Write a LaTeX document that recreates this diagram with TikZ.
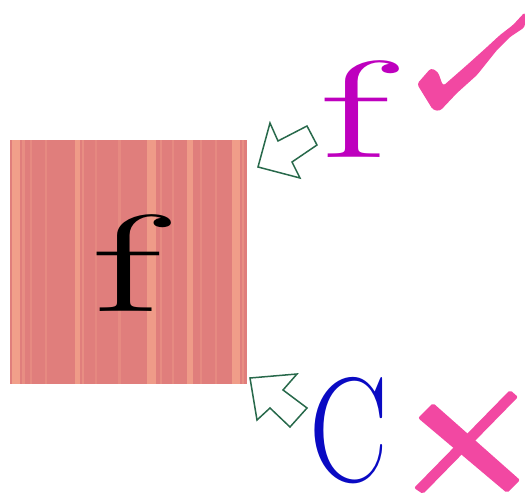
\documentclass[tikz,border=0pt]{standalone}
\usepackage{fontspec}
\definecolor{woodbase}{RGB}{224,126,124}
\definecolor{woodlight}{RGB}{246,168,142}
\definecolor{arrowgreen}{RGB}{40,105,75}
\definecolor{markpink}{RGB}{242,72,162}
\definecolor{fmag}{RGB}{190,0,190}
\definecolor{cblue}{RGB}{10,10,195}
\tikzset{
  hollowarrow/.style={draw=arrowgreen, line width=1.5pt, fill=white, line join=miter},
  bigletter/.style={inner sep=0pt, anchor=base west, font=\fontsize{138}{138}\selectfont, xscale=1.85},
  markstroke/.style={fill=markpink, draw=none},
}
\begin{document}
\begin{tikzpicture}[x=1pt,y=-1pt]
\useasboundingbox (0,0) rectangle (525,497);
% wooden square
\fill[woodbase] (10,140) rectangle (247,384);
\foreach \xa/\w/\op in {12/8/0.8, 22/3/0.4, 30/2/0.3, 45/2/0.3, 75/5/0.7, 82/2/0.4, 95/2/0.25, 118/3/0.3, 147/9/0.7, 160/2/0.35, 172/2/0.3, 187/6/0.7, 200/2/0.3, 215/2/0.3, 232/8/0.75, 242/2/0.4}{
  \fill[woodlight, opacity=\op] (\xa,140) rectangle ({\xa+\w},384);
}
\node[bigletter] (f1) at (91,312) {f};
% magenta f
\node[bigletter, text=fmag] (f2) at (319,158) {f};
% blue C
\node[inner sep=0pt, anchor=base west, text=cblue, font=\fontsize{149}{149}\selectfont, xscale=0.79] (c1) at (309,481) {C};
% arrows
\draw[hollowarrow] (258,167) -- (270,123) -- (278,141) -- (307,126) -- (317,145) -- (292,162) -- (300,178) -- cycle;
\draw[hollowarrow] (250,378) -- (297,374) -- (283,390) -- (307,408) -- (290,427) -- (270,408) -- (257,420) -- cycle;
% check mark
\fill[markstroke, rounded corners=3pt] (417,84) -- (431,68) -- (438,72) -- (443,86) -- (467,65) -- (487,47) -- (500,35) -- (513,25) -- (525,12) -- (525,27) -- (510,37) -- (497,50) -- (477,75) -- (457,93) -- (440,111) -- (433,110) -- cycle;
% cross
\fill[markstroke, rounded corners=2pt] (510,390) -- (518,397) -- (423,494) -- (414,488) -- cycle;
\fill[markstroke, rounded corners=2pt] (418,418) -- (433,403) -- (520,480) -- (507,493) -- cycle;
\end{tikzpicture}
\end{document}
